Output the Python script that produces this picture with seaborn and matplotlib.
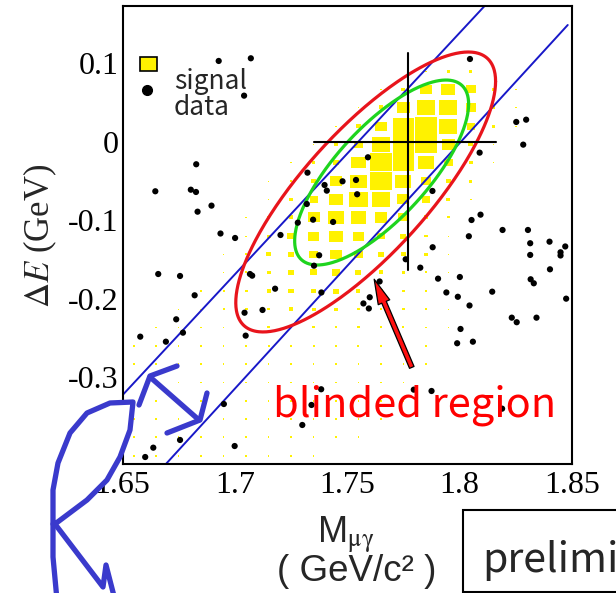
import numpy as np
import pandas as pd
import matplotlib
matplotlib.use("Agg")
import matplotlib.pyplot as plt
import seaborn as sns
from matplotlib.patches import Polygon, Rectangle, FancyArrowPatch
from matplotlib.collections import PatchCollection
from matplotlib.lines import Line2D
from matplotlib.ticker import MultipleLocator, FuncFormatter

sns.set_style("white")
plt.rcParams["font.family"] = ["Liberation Serif", "DejaVu Serif"]
plt.rcParams["mathtext.fontset"] = "stix"
plt.rcParams["axes.unicode_minus"] = False

SANS = ["Noto Sans CJK JP", "DejaVu Sans"]
ARIAL = ["Liberation Sans", "DejaVu Sans"]

# ---- observed events (M_mu-gamma in GeV/c^2, Delta E in GeV) ----
data_mass = [1.6928, 1.7071, 1.7041, 1.6828, 1.6646, 1.6804, 1.6827, 1.6896, 1.6834, 1.6936,
             1.7323, 1.7399, 1.7409, 1.7479, 1.7320, 1.7348, 1.7437, 1.7280, 1.8046, 1.8252,
             1.8296, 1.8283, 1.8089, 1.7592, 1.7539, 1.7544, 1.7879, 1.8053, 1.8093, 1.8191,
             1.8304, 1.8041, 1.7375, 1.7352, 1.7880, 1.7760, 1.7825, 1.7904, 1.8001, 1.8314,
             1.8314, 1.8400, 1.8449, 1.8449, 1.8470, 1.8402, 1.8316, 1.8330, 1.8145, 1.7941,
             1.7992, 1.7600, 1.7385, 1.8474, 1.7644, 1.7572, 1.7596, 1.8044, 1.8232, 1.8254,
             1.8342, 1.8004, 1.7989, 1.8059, 1.7796, 1.7875, 1.8189, 1.7001, 1.7203, 1.6659,
             1.6756, 1.6821, 1.6739, 1.6769, 1.6579, 1.6693, 1.7067, 1.7077, 1.7179, 1.7123,
             1.7043, 1.7048, 1.6951, 1.6756, 1.6637, 1.6601, 1.6999, 1.7384, 1.7341, 1.7300]
data_de = [0.1032, 0.1066, 0.0590, -0.0284, -0.0628, -0.0608, -0.0637, -0.0811, -0.0888, -0.1166,
           -0.0391, -0.0548, -0.0620, -0.0501, -0.0790, -0.0990, -0.1019, -0.1028, 0.1057, 0.0255,
           0.0284, -0.0034, -0.0136, -0.0195, -0.0484, -0.0666, -0.0624, -0.0994, -0.0926, -0.1121,
           -0.1121, -0.1201, -0.1443, -0.1576, -0.1341, -0.1494, -0.1601, -0.1741, -0.1720, -0.1290,
           -0.1439, -0.1270, -0.1405, -0.1446, -0.1331, -0.1622, -0.1749, -0.1800, -0.1907, -0.1917,
           -0.1972, -0.1978, -0.1917, -0.1996, -0.1777, -0.2057, -0.2121, -0.2083, -0.2238, -0.2296,
           -0.2238, -0.2382, -0.2564, -0.2544, -0.3155, -0.3172, -0.3397, -0.1223, -0.1185, -0.1682,
           -0.1707, -0.1953, -0.2259, -0.2429, -0.2480, -0.2544, -0.1682, -0.1703, -0.1869, -0.2140,
           -0.2175, -0.2467, -0.3338, -0.3796, -0.3894, -0.4013, -0.3873, -0.3150, -0.3350, -0.3605]

# ---- signal MC, 2D histogram contents (box chart) ----
sig_mass_centers = [1.655, 1.665, 1.675, 1.685, 1.695, 1.705, 1.715, 1.725, 1.735, 1.745,
                    1.755, 1.765, 1.775, 1.785, 1.795, 1.805, 1.815, 1.825, 1.835, 1.845]
sig_de_centers = [0.090, 0.067, 0.044, 0.020, -0.003, -0.026, -0.050, -0.073, -0.096, -0.120,
                  -0.143, -0.166, -0.190, -0.213, -0.236, -0.260, -0.283, -0.306, -0.330,
                  -0.353, -0.376, -0.400]
sig_mass_binwidth = 0.01
sig_de_binwidth = 0.02333
sig_content = [
    [0, 0, 0, 0, 0, 0, 0, 0, 0, 0, 0, 0, 0, 4, 8, 8, 4, 0, 0, 0],
    [0, 0, 0, 0, 0, 0, 0, 0, 0, 0, 0, 4, 10, 28, 35, 24, 8, 4, 0, 0],
    [0, 0, 0, 0, 0, 0, 0, 0, 0, 0, 4, 12, 32, 45, 45, 25, 10, 4, 0, 0],
    [0, 0, 0, 0, 0, 0, 0, 0, 0, 4, 12, 28, 52, 60, 45, 20, 8, 4, 0, 0],
    [0, 0, 0, 0, 0, 0, 0, 0, 4, 10, 22, 45, 55, 55, 32, 12, 4, 0, 0, 0],
    [0, 0, 0, 0, 0, 0, 0, 4, 8, 16, 35, 60, 55, 40, 22, 10, 4, 0, 0, 0],
    [0, 0, 0, 0, 0, 0, 4, 6, 12, 30, 40, 55, 40, 25, 12, 8, 0, 0, 0, 0],
    [0, 0, 0, 0, 0, 0, 4, 8, 20, 35, 45, 45, 30, 20, 10, 4, 0, 0, 0, 0],
    [0, 0, 0, 0, 0, 4, 6, 12, 30, 40, 38, 32, 25, 12, 6, 0, 0, 0, 0, 0],
    [0, 0, 0, 0, 0, 4, 10, 20, 28, 33, 28, 20, 15, 8, 4, 0, 0, 0, 0, 0],
    [0, 0, 0, 0, 4, 6, 12, 15, 22, 28, 22, 15, 12, 8, 4, 0, 0, 0, 0, 0],
    [0, 0, 0, 0, 4, 6, 10, 15, 18, 20, 15, 12, 8, 6, 4, 0, 0, 0, 0, 0],
    [0, 0, 0, 4, 5, 8, 10, 14, 13, 15, 10, 10, 8, 6, 4, 0, 0, 0, 0, 0],
    [0, 0, 4, 4, 5, 8, 8, 12, 10, 10, 8, 6, 6, 5, 4, 0, 0, 0, 0, 0],
    [0, 4, 4, 4, 4, 5, 6, 6, 6, 6, 6, 5, 5, 4, 4, 0, 0, 0, 0, 0],
    [4, 4, 4, 4, 4, 4, 5, 5, 5, 5, 5, 4, 4, 4, 0, 0, 0, 0, 0, 0],
    [4, 4, 4, 4, 4, 4, 4, 4, 4, 4, 4, 4, 4, 4, 0, 0, 0, 0, 0, 0],
    [4, 4, 4, 4, 4, 4, 4, 4, 4, 4, 4, 4, 4, 0, 0, 0, 0, 0, 0, 0],
    [4, 4, 4, 4, 4, 4, 4, 4, 4, 4, 4, 4, 4, 0, 0, 0, 0, 0, 0, 0],
    [4, 4, 4, 4, 4, 4, 4, 4, 4, 4, 4, 4, 0, 0, 0, 0, 0, 0, 0, 0],
    [4, 4, 4, 4, 4, 4, 4, 4, 4, 4, 4, 0, 0, 0, 0, 0, 0, 0, 0, 0],
    [4, 4, 4, 4, 4, 4, 4, 4, 4, 0, 0, 0, 0, 0, 0, 0, 0, 0, 0, 0],
]

# ---- selection band edges (two straight lines) ----
band_upper_mass = [1.6500, 1.8111]
band_upper_de = [-0.3225, 0.1732]
band_lower_mass = [1.6689, 1.8481]
band_lower_de = [-0.4115, 0.1490]

# ---- signal-region ellipses: centre, half extents, correlation ----
red_centre, red_half, red_rho = (1.7582, -0.0637), (0.0578, 0.1783), 0.79
green_centre, green_half, green_rho = (1.7653, -0.0389), (0.0387, 0.1178), 0.74

# ---- tau mass cross ----
tau_mass = 1.777
cross_mass_range = (1.735, 1.816)
cross_de_range = (-0.163, 0.113)

# ---- arrow pointing into the blinded region ----
arrow_tail = (1.7792, -0.2904)
arrow_head = (1.7615, -0.1716)

W, H = 616, 593
fig = plt.figure(figsize=(W / 100, H / 100), dpi=100)
ax = fig.add_axes([122.5 / W, 1 - 464 / H, 449.5 / W, 458 / H])


def px(x, y):
    """Figure-fraction position from a pixel offset measured from the top-left corner."""
    return x / W, 1 - y / H


# signal boxes: box edge scales linearly with the cell content
sig_df = pd.DataFrame(
    [(m, e, c) for e, row in zip(sig_de_centers, sig_content)
     for m, c in zip(sig_mass_centers, row) if c > 0],
    columns=["mass", "de", "content"],
)
frac = np.minimum(sig_df["content"].to_numpy() / 56.0, 0.97)
bw = frac * sig_mass_binwidth
bh = frac * sig_de_binwidth
boxes = [Rectangle((m - w / 2, e - h / 2), w, h)
         for m, e, w, h in zip(sig_df["mass"], sig_df["de"], bw, bh)]
ax.add_collection(PatchCollection(boxes, facecolor="#fff200", edgecolor="none",
                                  linewidth=0, zorder=1))

# band lines
ax.plot(band_upper_mass, band_upper_de, color="#1818c8", lw=1.4, zorder=2)
ax.plot(band_lower_mass, band_lower_de, color="#1818c8", lw=1.4, zorder=2)

# ellipses
t = np.linspace(0, 2 * np.pi, 400)
for (mc, ec), (a, b), rho, col in [(red_centre, red_half, red_rho, "#e8141c"),
                                   (green_centre, green_half, green_rho, "#1ed41e")]:
    d = np.arccos(rho)
    ax.plot(mc + a * np.cos(t), ec + b * np.cos(t - d), color=col, lw=2.3, zorder=3)

# cross at the tau mass
ax.plot(cross_mass_range, [0, 0], color="black", lw=1.5, zorder=3)
ax.plot([tau_mass, tau_mass], cross_de_range, color="black", lw=1.5, zorder=3)

# data points
data_df = pd.DataFrame({"mass": data_mass, "de": data_de})
sns.scatterplot(data=data_df, x="mass", y="de", color="black", s=20, linewidth=0,
                edgecolor="none", ax=ax, zorder=4, legend=False)

# arrow
arr = FancyArrowPatch(arrow_tail, arrow_head,
                      arrowstyle="simple,head_length=1.8,head_width=0.9,tail_width=0.35",
                      mutation_scale=10, fc="#ff1010", ec="black", lw=0.9, zorder=6)
ax.add_patch(arr)

# axes styling
ax.set_xlim(1.65, 1.85)
ax.set_ylim(-0.4102, 0.1732)
ax.set_xlabel("")
ax.set_ylabel("")
for sp in ax.spines.values():
    sp.set_color("black")
    sp.set_linewidth(1.5)
ax.xaxis.set_major_locator(MultipleLocator(0.025))
ax.xaxis.set_minor_locator(MultipleLocator(0.005))
ax.yaxis.set_major_locator(MultipleLocator(0.1))
ax.yaxis.set_minor_locator(MultipleLocator(0.02))


def xfmt(v, pos):
    k = v / 0.05
    return "%g" % round(v, 3) if abs(k - round(k)) < 1e-6 else ""


def yfmt(v, pos):
    return "%g" % round(v, 3)


ax.xaxis.set_major_formatter(FuncFormatter(xfmt))
ax.yaxis.set_major_formatter(FuncFormatter(yfmt))
ax.tick_params(which="both", direction="in", top=False, right=False, color="black",
               width=1.0, labelsize=23, labelcolor="black")
ax.tick_params(which="major", length=6)
ax.tick_params(which="minor", length=3)
ax.tick_params(axis="x", pad=5)
ax.tick_params(axis="y", pad=3)

# legend
ax.add_patch(Rectangle((0.0389, 0.858), 0.0378, 0.0306, transform=ax.transAxes,
                       fc="#fff200", ec="black", lw=1.2, zorder=7))
ax.plot([0.0545], [0.8166], "o", color="black", ms=7, transform=ax.transAxes, zorder=7)
ax.text(0.1146, 0.8188, "signal", transform=ax.transAxes, family=SANS, fontsize=19,
        va="baseline", ha="left", zorder=7)
ax.text(0.1146, 0.762, "data", transform=ax.transAxes, family=SANS, fontsize=19,
        va="baseline", ha="left", zorder=7)

# axis titles
fig.text(*px(40, 236), r"$\Delta E$ (GeV)", rotation=90, ha="center", va="center",
         fontsize=25)
fig.text(*px(346, 543), r"M$_{\mathrm{\mu\gamma}}$", ha="center", va="baseline",
         family=ARIAL, fontsize=26)
fig.text(*px(357, 581), "( GeV/c² )", ha="center", va="baseline", family=ARIAL,
         fontsize=26.5)

# blinded-region label
fig.text(*px(273, 416), "blinded region", color="#ff0000", family=SANS, fontsize=30,
         ha="left", va="baseline", zorder=8)

# preliminary box
fig.patches.append(Rectangle(px(463, 592), 0.5, 82 / H, transform=fig.transFigure,
                             fc="white", ec="black", lw=1.5, zorder=5))
fig.text(*px(482, 572), "preliminary", family=SANS, fontsize=29.5, ha="left",
         va="baseline", zorder=6)

# hand-drawn blue markings
BLUE = "#3a3acc"
lens_outer = [(133, 402), (110, 403), (87, 413), (70, 433), (58, 463), (53, 490), (53, 524)]
lens_inner = [(133, 402), (130, 430), (120, 457), (107, 480), (87, 500), (55, 524)]
lens = [px(x, y) for x, y in lens_outer + lens_inner[::-1]]
fig.patches.append(Polygon(lens, closed=True, transform=fig.transFigure, fc="white",
                           ec=BLUE, lw=3.8, joinstyle="round", zorder=9))
strokes = [
    [(53, 524), (53, 557), (57, 600)],
    [(55, 524), (103, 587), (106, 565), (115, 600)],
    [(177, 366), (150, 376), (139, 405)],
    [(150, 377), (199, 420)],
    [(207, 393), (200, 420), (167, 433)],
]
for s in strokes:
    xs, ys = zip(*[px(x, y) for x, y in s])
    fig.lines.append(Line2D(xs, ys, transform=fig.transFigure, color=BLUE, lw=3.8,
                            solid_capstyle="round", solid_joinstyle="round", zorder=10))

fig.savefig("out.png", dpi=100)
